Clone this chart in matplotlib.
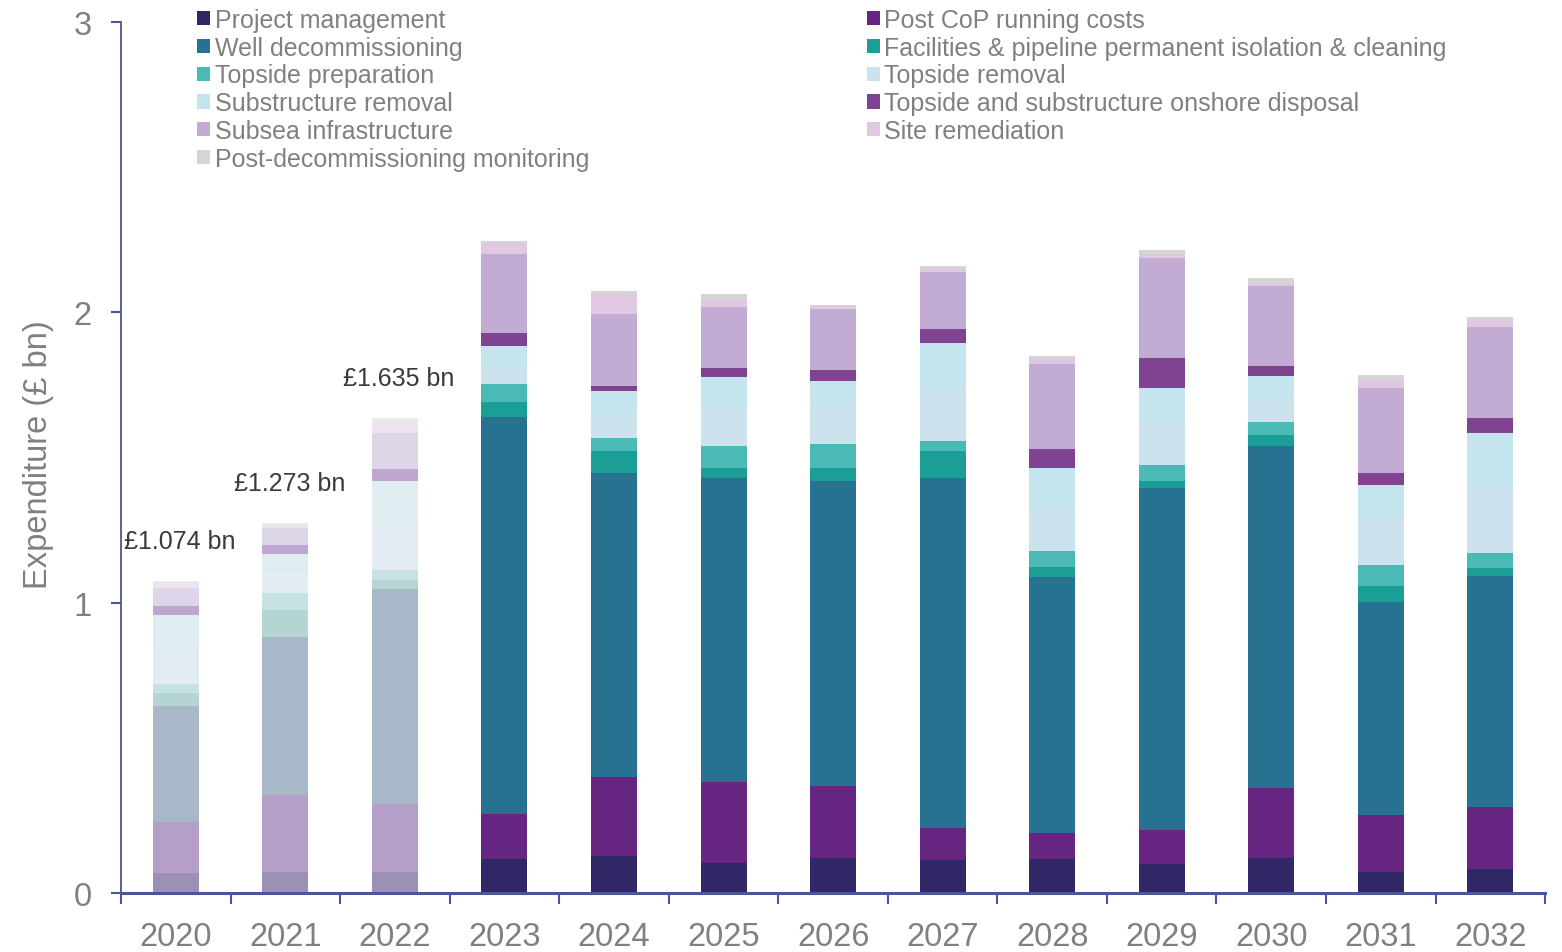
import numpy as np
import matplotlib
matplotlib.use("Agg")
import matplotlib.pyplot as plt
from matplotlib.patches import Patch

plt.rcParams['font.family'] = ['Liberation Sans', 'DejaVu Sans']

years = ['2020', '2021', '2022', '2023', '2024', '2025', '2026',
         '2027', '2028', '2029', '2030', '2031', '2032']

# £ bn per category (bottom of the stack first)
project_management = [0.070, 0.074, 0.074, 0.116, 0.128, 0.105, 0.120, 0.113, 0.116, 0.101, 0.120, 0.074, 0.083]
post_cop_running = [0.173, 0.264, 0.231, 0.157, 0.270, 0.278, 0.248, 0.112, 0.090, 0.117, 0.243, 0.196, 0.213]
well_decom = [0.401, 0.543, 0.743, 1.367, 1.050, 1.047, 1.050, 1.203, 0.882, 1.176, 1.175, 0.734, 0.795]
facilities_isolation = [0.044, 0.093, 0.029, 0.052, 0.075, 0.033, 0.045, 0.095, 0.036, 0.024, 0.040, 0.054, 0.027]
topside_prep = [0.031, 0.059, 0.037, 0.060, 0.045, 0.075, 0.085, 0.033, 0.054, 0.055, 0.045, 0.072, 0.052]
topside_removal = [0.120, 0.070, 0.150, 0.070, 0.090, 0.140, 0.140, 0.180, 0.150, 0.140, 0.080, 0.170, 0.220]
substructure_removal = [0.120, 0.066, 0.156, 0.061, 0.072, 0.100, 0.075, 0.159, 0.135, 0.127, 0.078, 0.106, 0.193]
onshore_disposal = [0.029, 0.029, 0.039, 0.045, 0.015, 0.030, 0.037, 0.048, 0.067, 0.101, 0.034, 0.042, 0.052]
subsea_infra = [0.064, 0.058, 0.124, 0.273, 0.250, 0.210, 0.211, 0.195, 0.293, 0.345, 0.274, 0.292, 0.315]
site_remediation = [0.018, 0.012, 0.043, 0.039, 0.068, 0.027, 0.010, 0.015, 0.019, 0.015, 0.012, 0.026, 0.023]
post_decom_monitoring = [0.004, 0.005, 0.009, 0.005, 0.012, 0.018, 0.004, 0.007, 0.006, 0.012, 0.018, 0.019, 0.012]

# totals written above the (faded) actual-spend years
hist_labels = ['£1.074 bn', '£1.273 bn', '£1.635 bn']

# name, values, colour, faded colour used for the first years
series = [
    ('Project management', project_management, '#2f2766', '#9c91b4'),
    ('Post CoP running costs', post_cop_running, '#652581', '#b59fc8'),
    ('Well decommissioning', well_decom, '#277291', '#a8b8c8'),
    ('Facilities & pipeline permanent isolation & cleaning', facilities_isolation, '#1a9e95', '#b4d5d2'),
    ('Topside preparation', topside_prep, '#4bbab7', '#c6e2e2'),
    ('Topside removal', topside_removal, '#cce3ed', '#e3ecf2'),
    ('Substructure removal', substructure_removal, '#c4e5ed', '#dfedf1'),
    ('Topside and substructure onshore disposal', onshore_disposal, '#7f4391', '#bfa6cf'),
    ('Subsea infrastructure', subsea_infra, '#c3acd3', '#ddd5e8'),
    ('Site remediation', site_remediation, '#e0c8e3', '#ede4ef'),
    ('Post-decommissioning monitoring', post_decom_monitoring, '#d5d5d5', '#eaeaea'),
]

grey = '#808080'
axis_col = '#4b559a'

fig = plt.figure(figsize=(15.62, 9.53), dpi=100)
ax = fig.add_axes([0.0775, 0.0619, 0.9117, 0.9140])

x = np.arange(len(years))
n_hist = len(hist_labels)
bottom = np.zeros(len(years))
for name, vals, col, fcol in series:
    colors = [fcol] * n_hist + [col] * (len(years) - n_hist)
    ax.bar(x, vals, 0.42, bottom=bottom, color=colors, linewidth=0)
    bottom += np.array(vals)

for i, lab in enumerate(hist_labels):
    ax.annotate(lab, (x[i], bottom[i]), xytext=(3, 29), textcoords='offset points',
                ha='center', va='center', fontsize=18, color='#3a3a3a')

ax.set_xlim(-0.5, len(years) - 0.5)
ax.set_ylim(0, 3)
ax.set_yticks([0, 1, 2, 3])
ax.set_xticks(x)
ax.set_xticklabels(years)
ax.set_xticks(np.arange(-0.5, len(years), 1), minor=True)

for s in ['top', 'right']:
    ax.spines[s].set_visible(False)
ax.spines['left'].set_color(axis_col)
ax.spines['left'].set_linewidth(1.3)
ax.spines['bottom'].set_color(axis_col)
ax.spines['bottom'].set_linewidth(2.2)

ax.tick_params(axis='x', which='major', length=0, pad=20, labelsize=23.5, labelcolor=grey)
ax.tick_params(axis='x', which='minor', length=8, width=1.5, color=axis_col, direction='out')
ax.tick_params(axis='y', length=7, width=1.5, color=axis_col, pad=14, labelsize=23.5, labelcolor=grey)

ax.set_ylabel('Expenditure (£ bn)', fontsize=23.5, color=grey)
ax.yaxis.set_label_coords(-0.047, 0.504)

handles = [Patch(facecolor=c, label=n) for n, v, c, f in series]
# legend laid out row by row in two columns, so split into two blocks
left_idx = [0, 2, 4, 6, 8, 10]
right_idx = [1, 3, 5, 7, 9]
leg_kw = dict(frameon=False, fontsize=18, labelcolor=grey, handlelength=0.5,
              handleheight=0.5, handletextpad=0.2, labelspacing=0.15,
              borderpad=0, borderaxespad=0, loc='upper left',
              bbox_transform=fig.transFigure)
leg1 = ax.legend(handles=[handles[i] for i in left_idx],
                 bbox_to_anchor=(197 / 1562, 1 - 9 / 953), **leg_kw)
ax.add_artist(leg1)
ax.legend(handles=[handles[i] for i in right_idx],
          bbox_to_anchor=(867 / 1562, 1 - 9 / 953), **leg_kw)

fig.savefig('out.png', dpi=100, facecolor='white')
